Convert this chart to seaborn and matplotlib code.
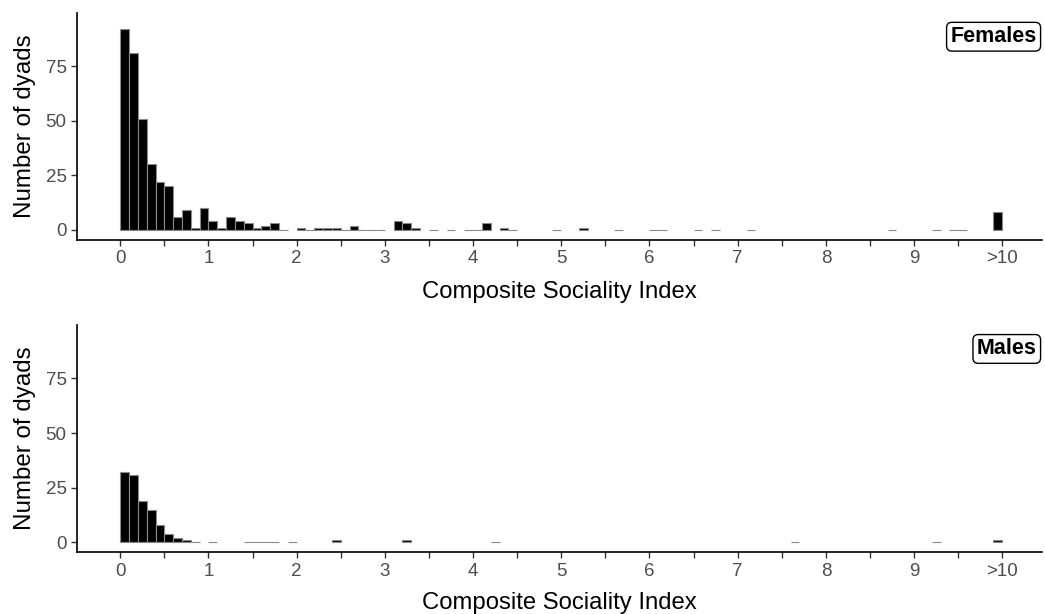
import numpy as np
import pandas as pd
import matplotlib
matplotlib.use("Agg")
import matplotlib.pyplot as plt
import seaborn as sns

# ---------------- data ----------------
bin_width = 0.1

female_bin_start = [0.0, 0.1, 0.2, 0.3, 0.4, 0.5, 0.6, 0.7, 0.8, 0.9,
                    1.0, 1.1, 1.2, 1.3, 1.4, 1.5, 1.6, 1.7, 1.8, 2.0,
                    2.1, 2.2, 2.3, 2.4, 2.5, 2.6, 2.7, 2.8, 2.9, 3.1,
                    3.2, 3.3, 3.5, 3.7, 3.9, 4.0, 4.1, 4.3, 4.4, 4.9,
                    5.2, 5.6, 6.0, 6.1, 6.5, 6.7, 7.1, 8.7, 9.2, 9.4,
                    9.5, 9.9]
female_count = [92, 81, 51, 30, 22, 20, 6, 9, 1, 10,
                4, 1, 6, 4, 3, 1, 2, 3, 0, 1,
                0, 1, 1, 1, 0, 2, 0, 0, 0, 4,
                3, 1, 0, 0, 0, 0, 3, 1, 0, 0,
                1, 0, 0, 0, 0, 0, 0, 0, 0, 0,
                0, 8]

male_bin_start = [0.0, 0.1, 0.2, 0.3, 0.4, 0.5, 0.6, 0.7, 0.8, 1.0,
                  1.4, 1.5, 1.6, 1.7, 1.9, 2.4, 3.2, 4.2, 7.6, 9.2,
                  9.9]
male_count = [32, 31, 19, 15, 8, 4, 2, 1, 0, 0,
              0, 0, 0, 0, 0, 1, 1, 0, 0, 0,
              1]

x_tick_values = [0, 1, 2, 3, 4, 5, 6, 7, 8, 9, 10]
x_tick_labels = ["0", "1", "2", "3", "4", "5", "6", "7", "8", "9", ">10"]
y_tick_values = [0, 25, 50, 75]
panel_labels = ["Females", "Males"]
x_title = "Composite Sociality Index"
y_title = "Number of dyads"

# ---------------- style ----------------
sns.set_theme(style="ticks")
plt.rcParams["font.family"] = ["Liberation Sans", "DejaVu Sans"]

W, H = 1045, 614
fig = plt.figure(figsize=(W / 100, H / 100), dpi=100)

left_px, right_px = 77, 1042
ax_top = fig.add_axes([left_px / W, 1 - 240 / H, (right_px - left_px) / W, (240 - 12.7) / H])
ax_bot = fig.add_axes([left_px / W, 1 - 552.4 / H, (right_px - left_px) / W, (552.4 - 324.9) / H])

tick_grey = "#4d4d4d"

panels = [
    (ax_top, female_bin_start, female_count, panel_labels[0], 10),
    (ax_bot, male_bin_start, male_count, panel_labels[1], 8.5),
]

for ax, starts, counts, lab, xpad in panels:
    df = pd.DataFrame({"csi": np.array(starts) + bin_width / 2, "n": counts})
    sns.barplot(data=df, x="csi", y="n", native_scale=True, width=1.0,
                color="black", saturation=1, edgecolor="#8a8a8a",
                linewidth=0.8, errorbar=None, orient="x", ax=ax)
    ax.set_xlim(-0.49, 10.45)
    ax.set_ylim(-4.6, 99.5)

    minor = np.arange(0, 10.01, 0.5)
    ax.set_xticks(minor)
    ax.set_xticklabels([x_tick_labels[x_tick_values.index(int(v))] if float(v).is_integer() else ""
                        for v in minor])
    ax.set_yticks(y_tick_values)
    ax.set_yticklabels([str(v) for v in y_tick_values])
    ax.tick_params(axis="both", length=4.5, width=1.0, color="#333333",
                   labelsize=13.5, labelcolor=tick_grey, pad=3)

    for s in ["top", "right"]:
        ax.spines[s].set_visible(False)
    for s in ["left", "bottom"]:
        ax.spines[s].set_linewidth(1.2)
        ax.spines[s].set_color("black")

    ax.set_xlabel(x_title, fontsize=17.2, color="black", labelpad=xpad)
    ax.set_ylabel(y_title, fontsize=17.4, color="black", labelpad=7)

    ax.text(10.39, 88.5, lab, ha="right", va="center", fontsize=15.5,
            fontweight="bold", color="black",
            bbox=dict(boxstyle="round,pad=0.18,rounding_size=0.25",
                      fc="white", ec="black", lw=1.0))

fig.savefig("out.png", dpi=100)
